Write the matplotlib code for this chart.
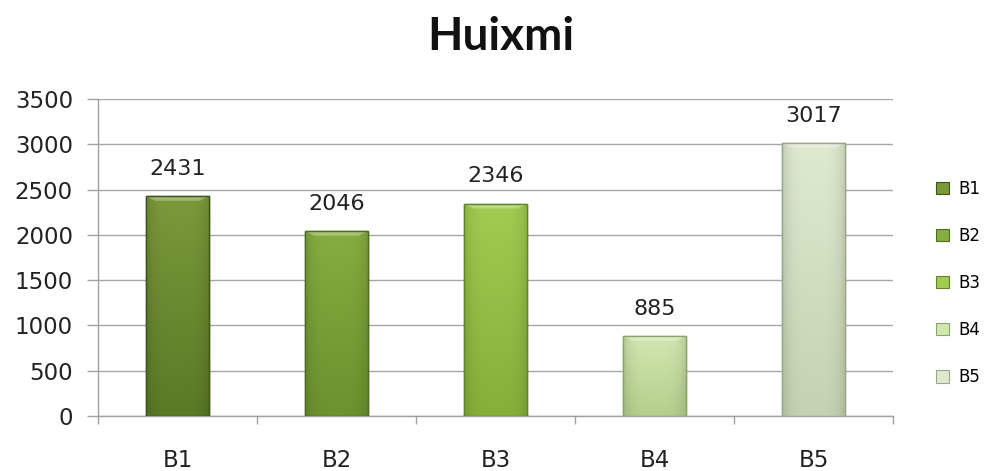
import matplotlib
matplotlib.use("Agg")
import matplotlib.pyplot as plt
import numpy as np
from matplotlib.patches import Patch
from matplotlib.colors import to_rgb

categories = ["B1", "B2", "B3", "B4", "B5"]
values = [2431, 2046, 2346, 885, 3017]
yticks = [0, 500, 1000, 1500, 2000, 2500, 3000, 3500]
title = "Huixmi"

top_colors = ["#7a9a3a", "#86ad40", "#a0cc50", "#d2e7b0", "#dfe9cf"]
bot_colors = ["#5a7a26", "#6a922e", "#84b03a", "#b4cf8c", "#c6d2b2"]
edge_colors = ["#3f5518", "#4d6c1f", "#5f8526", "#8aa566", "#9aa88a"]

plt.rcParams['font.family'] = ['DejaVu Sans']

fig = plt.figure(figsize=(9.92, 4.71), dpi=100)
ax = fig.add_axes([98/992, 1-416/471, 795/992, 317/471])

x = np.arange(len(categories))
width = 0.40
bars = ax.bar(x, values, width=width, color=bot_colors, edgecolor=edge_colors,
              linewidth=1.0, zorder=3)

for b, ct, cb in zip(bars, top_colors, bot_colors):
    x0, y0 = b.get_x(), b.get_y()
    w, h = b.get_width(), b.get_height()
    t, bo = np.array(to_rgb(ct)), np.array(to_rgb(cb))
    n = 64
    frac = np.linspace(0, 1, n)[:, None]
    col = t[None, :] * (1 - frac) + bo[None, :] * frac
    m = 32
    hx = np.linspace(-1, 1, m)
    shade = 1 - 0.12 * hx**4
    img = col[:, None, :] * shade[None, :, None]
    img = np.clip(img, 0, 1)
    im = ax.imshow(img, extent=[x0, x0 + w, y0, y0 + h], origin='upper',
                   aspect='auto', zorder=3.5, interpolation='bilinear')
    im.set_clip_path(b)
    bev = min(55, h * 0.1)
    ax.fill([x0, x0 + w, x0 + w * 0.85, x0 + w * 0.15],
            [y0 + h, y0 + h, y0 + h - bev, y0 + h - bev],
            color=(1, 1, 1, 0.3), zorder=3.6, linewidth=0)
    ax.add_patch(plt.Rectangle((x0, y0), w, h, fill=False,
                               edgecolor=b.get_edgecolor(), linewidth=1.0, zorder=3.7))

for xi, v in zip(x, values):
    ax.text(xi, v + 300, str(v), ha='center', va='center', fontsize=16, color='#222222')

ax.set_xlim(-0.5, len(categories) - 0.5)
ax.set_ylim(0, 3500)
ax.set_yticks(yticks)
ax.set_yticklabels([str(t) for t in yticks], fontsize=16.5, color='#222222')
ax.yaxis.grid(True, color='#a6a6a6', linewidth=1.0, zorder=0)
ax.set_axisbelow(True)

ax.set_xticks(x)
ax.set_xticklabels(categories, fontsize=16.5, color='#222222')
ax.set_xticks(np.arange(-0.5, len(categories)), minor=True)
ax.tick_params(axis='x', which='major', length=0, pad=24)
ax.tick_params(axis='x', which='minor', length=6, color='#a0a0a0', width=1)
ax.tick_params(axis='y', length=8, color='#a0a0a0', width=1, pad=10)

for s in ['top', 'right']:
    ax.spines[s].set_visible(False)
for s in ['left', 'bottom']:
    ax.spines[s].set_color('#a0a0a0')
    ax.spines[s].set_linewidth(1.0)

fig.text(501/992, 1 - 50/471, title, ha='center', va='baseline', fontsize=33,
         fontweight='bold', color='#111111', family=['Lato', 'DejaVu Sans'])

handles = [Patch(facecolor=c, edgecolor=e, linewidth=0.8) for c, e in zip(top_colors, edge_colors)]
fig.legend(handles, categories, loc='center left', bbox_to_anchor=(936/992, 1 - 283/471),
           frameon=False, fontsize=12, labelspacing=1.75, handlelength=0.75,
           handleheight=0.75, handletextpad=0.6, borderaxespad=0, borderpad=0)

fig.savefig("out.png", dpi=100)
